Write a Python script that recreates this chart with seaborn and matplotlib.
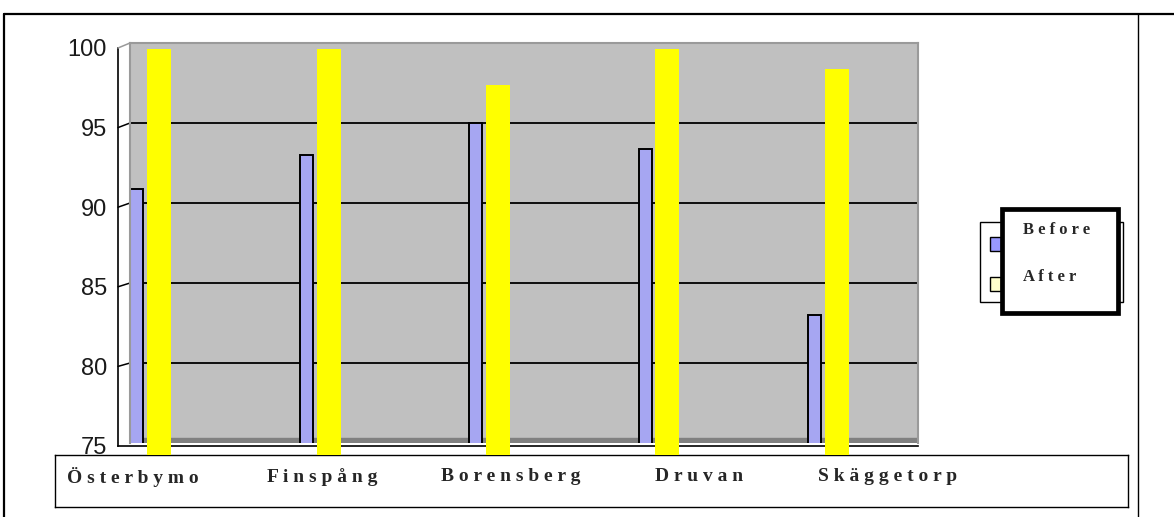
import numpy as np
import pandas as pd
import matplotlib
matplotlib.use("Agg")
import matplotlib.pyplot as plt
import matplotlib.transforms as mtransforms
from matplotlib.patches import Rectangle
from matplotlib.lines import Line2D
import seaborn as sns

# ---------------- data ----------------
sites = ["Österbymo", "Finspång", "Borensberg", "Druvan", "Skäggetorp"]
series = ["Before", "After"]
before = [90.9, 93.0, 95.0, 93.4, 83.0]
after = [99.5, 97.9, 96.9, 99.0, 88.9]
highlight = [99.6, 99.6, 97.4, 99.6, 98.4]   # bright yellow overlay bars
highlight_base = 74.25
y_ticks = [75, 80, 85, 90, 95, 100]

df = pd.DataFrame({
    "site": sites * 2,
    "series": [series[0]] * len(sites) + [series[1]] * len(sites),
    "value": before + after,
})

# ---------------- styling ----------------
sns.set_style("white")
plt.rcParams["font.family"] = ["Liberation Sans", "DejaVu Sans"]

W, H = 1174, 517
def rect(x0, y0, x1, y1):
    return [x0 / W, 1 - y1 / H, (x1 - x0) / W, (y1 - y0) / H]
def fx(x):
    return x / W
def fy(y):
    return 1 - y / H

fig = plt.figure(figsize=(W / 100, H / 100), dpi=100)
fig.patch.set_facecolor("white")

# value axis (offset, like the 3-D chart's axis)
ax2 = fig.add_axes(rect(118, 48, 918, 446))
ax2.set_zorder(1)
ax2.patch.set_alpha(0)
ax2.set_ylim(75, 100)
ax2.set_yticks(y_ticks)
ax2.set_yticklabels([str(t) for t in y_ticks])
ax2.set_xlim(0, 14.1)
ax2.set_xticks(np.arange(15))
ax2.set_xticklabels([])
for s in ["top", "right"]:
    ax2.spines[s].set_visible(False)
for s in ["left", "bottom"]:
    ax2.spines[s].set_color("black")
    ax2.spines[s].set_linewidth(1.2)
ax2.tick_params(axis="y", direction="out", length=5, width=1, pad=3,
                labelsize=17, labelcolor="#1a1a1a", color="black")
ax2.tick_params(axis="x", direction="out", length=4, width=1, color="black")

# category label box
ax3 = fig.add_axes(rect(55, 455, 1128, 507))
ax3.set_zorder(2)
ax3.set_facecolor("white")
ax3.set_xlim(-0.4133, 5.2715)
ax3.set_ylim(0, 1)
ax3.set_xticks([])
ax3.set_yticks([])
for s in ax3.spines.values():
    s.set_color("black")
    s.set_linewidth(1.0)
tr = mtransforms.blended_transform_factory(ax3.transData, ax3.transAxes)
for i, name in enumerate(sites):
    ax3.text(i, 0.58, " ".join(name), transform=tr, ha="center", va="center",
             fontsize=14, fontweight="bold", family=["Liberation Serif", "DejaVu Serif"])

# main plot wall
ax = fig.add_axes(rect(130, 43, 918, 443))
ax.set_zorder(3)
ax.set_facecolor("#C0C0C0")
sns.barplot(data=df, x="site", y="value", hue="series", order=sites,
            hue_order=series, palette=["#9999FF", "#FFFFCC"],
            width=0.236, gap=0.35, edgecolor="black", linewidth=1.4,
            legend=False, ax=ax, errorbar=None)
ax.set_xlim(-0.1003, 4.549)
ax.set_ylim(75, 100)
ax.set_yticks([80, 85, 90, 95])
ax.grid(axis="y", color="black", linewidth=1.3)
ax.grid(axis="x", visible=False)
ax.set_axisbelow(True)
ax.tick_params(length=0, labelleft=False, labelbottom=False)
ax.set_xlabel("")
ax.set_ylabel("")
ax.axhspan(75, 75.33, color="#808080", zorder=0.6)
for s in ["top", "right", "left"]:
    ax.spines[s].set_color("#9a9a9a")
    ax.spines[s].set_linewidth(1.5)
ax.spines["bottom"].set_visible(False)

# bright yellow overlay bars
xpos = np.arange(len(sites)) + 0.071
ax.bar(xpos, np.array(highlight) - highlight_base, bottom=highlight_base,
       width=0.1416, color="#FFFF00", linewidth=0, clip_on=False, zorder=5)

# 3-D side-wall connectors from the value axis to the back wall gridlines
fig.canvas.draw()
inv = fig.transFigure.inverted()
for v in [80, 85, 90, 95, 100]:
    p0 = inv.transform(ax2.transData.transform((0, v)))
    p1 = inv.transform(ax.transAxes.transform((0, ax.transLimits.transform((0, v))[1])))
    fig.add_artist(Line2D([p0[0], p1[0]], [p0[1], p1[1]], transform=fig.transFigure,
                          color="black" if v < 100 else "#9a9a9a", linewidth=1.1, zorder=2.5))

# ---------------- legend (drawn as shapes) ----------------
fig.add_artist(Rectangle((fx(980), fy(302)), fx(1123) - fx(980), fy(222) - fy(302),
                         transform=fig.transFigure, facecolor="white",
                         edgecolor="black", linewidth=1.0, zorder=10))
for yy, col in [(237, "#9999FF"), (277, "#FFFFCC")]:
    fig.add_artist(Rectangle((fx(990), fy(yy + 14)), fx(1001) - fx(990), fy(yy) - fy(yy + 14),
                             transform=fig.transFigure, facecolor=col,
                             edgecolor="black", linewidth=1.0, zorder=11))
fig.add_artist(Rectangle((fx(1002), fy(313)), fx(1118) - fx(1002), fy(209) - fy(313),
                         transform=fig.transFigure, facecolor="white",
                         edgecolor="black", linewidth=3.4, zorder=12))
for lab, yy in zip(series, [230, 277]):
    fig.text(fx(1023), fy(yy), " ".join(lab), ha="left", va="center",
             fontsize=12, fontweight="bold", family=["Liberation Serif", "DejaVu Serif"],
             zorder=13)

# ---------------- outer frame ----------------
fig.add_artist(Line2D([fx(4), fx(1174)], [fy(14), fy(14)], transform=fig.transFigure,
                      color="black", linewidth=1.6, zorder=14))
fig.add_artist(Line2D([fx(4), fx(4)], [fy(14), fy(517)], transform=fig.transFigure,
                      color="black", linewidth=1.6, zorder=14))
fig.add_artist(Line2D([fx(1138), fx(1138)], [fy(14), fy(517)], transform=fig.transFigure,
                      color="black", linewidth=1.0, zorder=14))

fig.savefig("out.png", dpi=100)
